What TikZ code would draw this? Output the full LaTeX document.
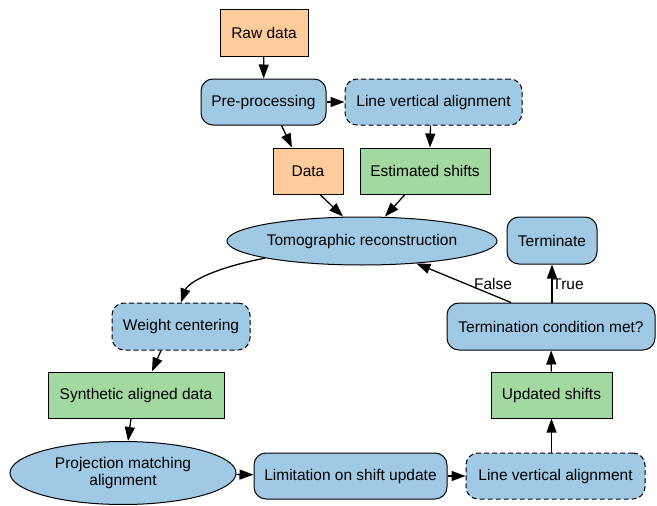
\documentclass[tikz,border=0pt]{standalone}
\usepackage{fontspec}
\setmainfont{Liberation Sans}
\usetikzlibrary{arrows.meta,shapes.geometric,calc}
\definecolor{procblue}{HTML}{9FC9E4}
\definecolor{datagreen}{HTML}{A2D9A0}
\definecolor{rawpeach}{HTML}{FECB9A}
\tikzset{
  base/.style={draw=black, line width=1pt, inner sep=0pt, font=\fontsize{15.5}{17.5}\selectfont, text=black},
  peachbox/.style={base, fill=rawpeach, rectangle},
  greenbox/.style={base, fill=datagreen, rectangle},
  roundbox/.style={base, fill=procblue, rectangle, rounded corners=12pt},
  dashbox/.style={roundbox, dash pattern=on 5pt off 3pt},
  ovalnode/.style={base, fill=procblue, ellipse},
  link/.style={line width=1.3pt, -{Triangle[length=14pt,width=10pt]}},
  lbl/.style={font=\fontsize{15.5}{17.5}\selectfont, inner sep=0pt}
}
\begin{document}
\begin{tikzpicture}[x=1pt,y=-1pt]
\useasboundingbox (0,0) rectangle (657,506);

% top branch: input data and its pre-processing
\node[peachbox, minimum width=88pt, minimum height=47pt] (raw) at (264,32.5) {Raw data};
\node[roundbox, minimum width=125pt, minimum height=46pt] (pre) at (263.5,102) {Pre-processing};
\node[dashbox, minimum width=177pt, minimum height=46pt] (lva1) at (433.5,102) {Line vertical alignment};
\node[peachbox, minimum width=70pt, minimum height=46pt] (data) at (308,171) {Data};
\node[greenbox, minimum width=130pt, minimum height=46pt] (est) at (425,171) {Estimated shifts};

% reconstruction and stopping test
\node[ovalnode, minimum width=270pt, minimum height=48pt] (tomo) at (362,241) {Tomographic reconstruction};
\node[roundbox, minimum width=90pt, minimum height=47pt] (term) at (552,240.5) {Terminate};
\node[roundbox, minimum width=208pt, minimum height=47pt] (tcond) at (551,326.5) {Termination condition met?};

% alignment loop
\node[dashbox, minimum width=138pt, minimum height=47pt] (wc) at (181,326.5) {Weight centering};
\node[greenbox, minimum width=176pt, minimum height=46pt] (syn) at (136,395) {Synthetic aligned data};
\node[greenbox, minimum width=121pt, minimum height=46pt] (upd) at (551.5,395) {Updated shifts};
\node[ovalnode, minimum width=226pt, minimum height=63pt, align=center] (pma) at (123,473) {Projection matching\\alignment};
\node[roundbox, minimum width=193pt, minimum height=46pt] (lim) at (350.5,476) {Limitation on shift update};
\node[dashbox, minimum width=179pt, minimum height=46pt] (lva2) at (555.5,476) {Line vertical alignment};

% connectors
\draw[link] (raw) -- (pre);
\draw[link] (pre) -- (lva1);
\draw[link] ($(pre.south)+(18,0)$) -- ($(data.north)+(-16,0)$);
\draw[link] ($(lva1.south)+(-3,0)$) -- ($(est.north)+(5,0)$);
\draw[link] ($(data.south)+(12,0)$) -- ($(tomo.north)+(-19,0)$);
\draw[link] ($(est.south)+(-20,0)$) -- ($(tomo.north)+(23,0)$);
\draw[link] (tomo.190) .. controls (205,270) and (187,285) .. (wc.north);
\draw[link] ($(wc.south)+(-20,0)$) -- ($(syn.north)+(16,0)$);
\draw[link] ($(syn.south)+(-5,0)$) -- ($(pma.north)+(5,0)$);
\draw[link] (pma) -- (lim);
\draw[link] (lim) -- (lva2);
\draw[link] (lva2.north -| upd.south) -- (upd.south);
\draw[link] (upd) -- (tcond);
\draw[link] (tcond.north -| term.south) -- (term.south);
\draw[link] (tcond.149.5) -- (tomo);

% branch labels
\node[lbl] (lfalse) at (493,284) {False};
\node[lbl] (ltrue) at (568,284) {True};
\end{tikzpicture}
\end{document}
